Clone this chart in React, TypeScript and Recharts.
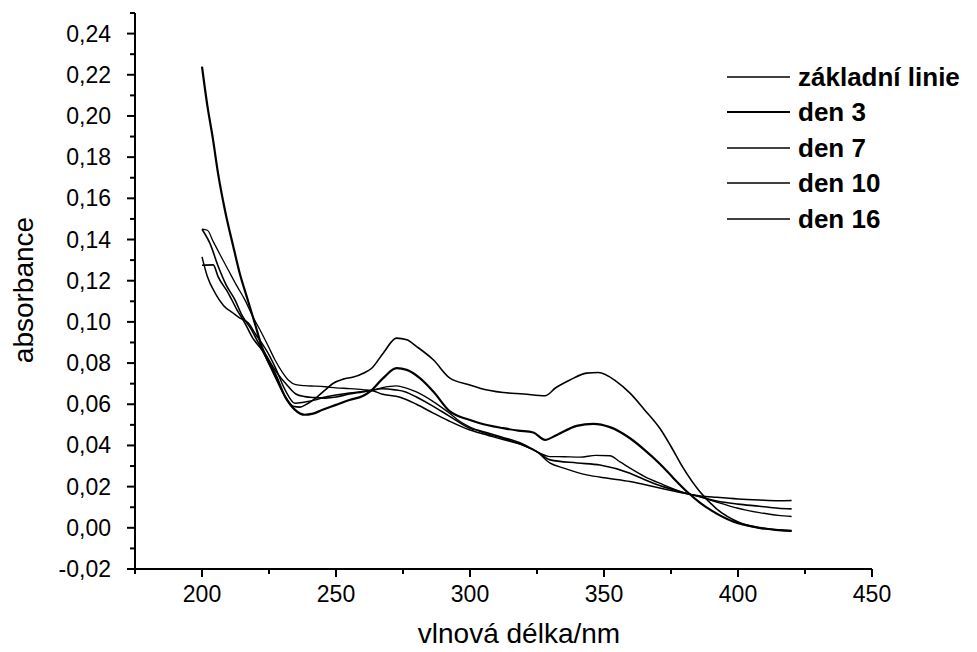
import React from 'react';
import { LineChart, Line, XAxis, YAxis, Legend, Label } from 'recharts';

// ---- data (wavelength nm / absorbance) ----
const wlZakladni = [200,204.2,206,209.8,213,216,219,222.3,227.2,231,234,236.6,239,242.8,246,249,252.7,256.5,260.2,263.3,267.6,272.6,276.4,280.1,286.3,292.5,300,303.7,312.4,320,328,332,337.3,343.5,347.9,354.7,359.7,365,370.9,375,379.6,385.8,392,400.7,408.2,415,420];
const absZakladni = [0.1275,0.1277,0.122,0.114,0.106,0.0994,0.092,0.0864,0.0735,0.0637,0.059,0.0586,0.060,0.0634,0.067,0.0702,0.0722,0.0732,0.0751,0.0775,0.0848,0.0921,0.0913,0.088,0.0816,0.0727,0.0694,0.0678,0.0657,0.065,0.0641,0.068,0.0718,0.0751,0.0754,0.071,0.0654,0.0575,0.0482,0.0395,0.029,0.0175,0.0092,0.0025,-0.0001,-0.001,-0.0015];

const wlDen3 = [200,202,204,206,208.6,211.6,214,217,220,222.3,225,227.2,231,234.7,238.4,241,245,250,255,260,263,267.6,272.6,276.4,281.3,286.3,292.5,300,303.7,312.4,318,323.6,328,332.4,339.8,346,352.2,359.7,365,370.9,376,381,386,390,398.3,408,414,420];
const absDen3 = [0.224,0.205,0.1895,0.172,0.154,0.137,0.124,0.111,0.098,0.088,0.080,0.075,0.0637,0.0573,0.0549,0.0553,0.0573,0.0597,0.0621,0.064,0.0665,0.0727,0.0775,0.0767,0.0727,0.0662,0.0565,0.0524,0.0508,0.0484,0.0472,0.0463,0.0427,0.0451,0.0495,0.0505,0.0489,0.0435,0.038,0.031,0.024,0.0175,0.012,0.0085,0.003,0.0,-0.001,-0.0015];

const wlDen7 = [200,202,204.2,207,209.8,213,216,219,222.3,225,227.2,230,232.2,235,238.4,242,246,250,255,260,263,267,272.6,276,280,286.3,292,296.3,303.7,312,320,324.9,329.9,335,341,347,352.2,356,359.7,365,372,380,386,392,400,408,415,420];
const absDen7 = [0.145,0.1445,0.139,0.132,0.1252,0.1175,0.1107,0.1025,0.0945,0.0875,0.0816,0.0755,0.0718,0.0695,0.069,0.0688,0.0685,0.068,0.0676,0.0671,0.0667,0.068,0.0689,0.068,0.066,0.0613,0.056,0.0516,0.0468,0.0435,0.040,0.037,0.0346,0.0345,0.0343,0.0352,0.035,0.032,0.029,0.025,0.021,0.017,0.015,0.0125,0.0095,0.0074,0.006,0.0055];

const wlDen10 = [200,203,206.1,209,212.3,215,218.5,221,223.5,227.2,232.2,235,238.4,242,245.9,250,255,260,263,267,272,276,280,286.3,292,300,304,312,320,324.9,329.9,340,348.5,359.7,365,372,380,386,392,400,408,415,420];
const absDen10 = [0.145,0.138,0.1268,0.118,0.1107,0.103,0.0961,0.090,0.0848,0.0767,0.0686,0.065,0.0637,0.0632,0.063,0.0635,0.065,0.066,0.0667,0.0675,0.067,0.066,0.0635,0.059,0.0545,0.0484,0.047,0.044,0.0405,0.037,0.033,0.0315,0.0305,0.0265,0.0235,0.020,0.017,0.015,0.013,0.0115,0.0105,0.0095,0.0092];

const wlDen16 = [200,202,204.9,208,211.7,214,217.3,220,222.3,225,227.2,231,234.7,238,242,246,250,255,260,263,267,273.9,280,286.3,292,300,303.7,312,320,324.9,329.9,335,343.5,352,359.7,365,372,380,386,392,400,408,415,420];
const absDen16 = [0.1316,0.122,0.114,0.108,0.1042,0.102,0.0994,0.094,0.0897,0.084,0.0783,0.067,0.0605,0.061,0.062,0.0635,0.0645,0.0655,0.0662,0.0667,0.065,0.0634,0.060,0.0557,0.052,0.0475,0.046,0.043,0.040,0.037,0.0314,0.029,0.0257,0.024,0.0225,0.021,0.019,0.0168,0.0155,0.0148,0.014,0.0135,0.0132,0.0133];

const seriesNames = ['základní linie', 'den 3', 'den 7', 'den 10', 'den 16'];
const xTicks = [175,200,225,250,275,300,325,350,375,400,425,450];
const xMajor = [200,250,300,350,400,450];
const yTicks = [-0.02,-0.01,0,0.01,0.02,0.03,0.04,0.05,0.06,0.07,0.08,0.09,0.1,0.11,0.12,0.13,0.14,0.15,0.16,0.17,0.18,0.19,0.2,0.21,0.22,0.23,0.24,0.25];

const toRows = (wl: number[], ab: number[]) => wl.map((w, i) => ({ w, a: ab[i] }));
const seriesData = [
  toRows(wlZakladni, absZakladni),
  toRows(wlDen3, absDen3),
  toRows(wlDen7, absDen7),
  toRows(wlDen10, absDen10),
  toRows(wlDen16, absDen16),
];
const widths = [1.6, 2.2, 1.3, 1.6, 1.5];

const FONT = '"Liberation Sans", Arial, Helvetica, sans-serif';

const YTick = (props: any) => {
  const { x, y, payload } = props;
  const v = payload.value as number;
  const major = Math.round(v * 100) % 2 === 0;
  return (
    <g>
      <line x1={x - (major ? 8 : 5)} x2={x} y1={y} y2={y} stroke="#000" strokeWidth={2} />
      {major && (
        <text x={x - 24} y={y} textAnchor="end" dominantBaseline="central" fontSize={23} fontFamily={FONT} fill="#000">
          {v.toFixed(2).replace('.', ',')}
        </text>
      )}
    </g>
  );
};

const XTick = (props: any) => {
  const { x, y, payload } = props;
  const v = payload.value as number;
  const major = xMajor.includes(v);
  return (
    <g>
      <line x1={x} x2={x} y1={y} y2={y + (major ? 8 : 5)} stroke="#000" strokeWidth={2} />
      {major && (
        <text x={x} y={y + 25} textAnchor="middle" dominantBaseline="central" fontSize={23} fontFamily={FONT} fill="#000">
          {v}
        </text>
      )}
    </g>
  );
};

const renderLegend = () => (
  <div style={{ fontFamily: FONT, fontWeight: 'bold', fontSize: 26, color: '#000' }}>
    {seriesNames.map((name, i) => (
      <div key={name} style={{ display: 'flex', alignItems: 'center', height: 35.5, whiteSpace: 'nowrap' }}>
        <svg width={63} height={6} style={{ display: 'block' }}>
          <line x1={0} x2={63} y1={3} y2={3} stroke="#000" strokeWidth={widths[i]} />
        </svg>
        <span style={{ marginLeft: 8, lineHeight: '26px' }}>{name}</span>
      </div>
    ))}
  </div>
);

export default function App() {
  return (
    <div style={{ position: 'absolute', left: 0, top: 0, width: 977, height: 652, background: '#fff' }}>
      <LineChart width={977} height={652} margin={{ top: 13, right: 105, bottom: 0, left: 0 }}>
        <XAxis
          type="number"
          dataKey="w"
          domain={[175, 450]}
          ticks={xTicks}
          interval={0}
          tickSize={0}
          tickMargin={0}
          tickLine={false}
          height={83}
          axisLine={{ stroke: '#000', strokeWidth: 2 }}
          tick={<XTick />}
        >
          <Label
            content={(p: any) => {
              const vb = p.viewBox || { x: 135, y: 569, width: 737 };
              return (
                <text x={vb.x + 384} y={vb.y + 64} textAnchor="middle" dominantBaseline="central" fontSize={28} fontFamily={FONT} fill="#000">
                  vlnová délka/nm
                </text>
              );
            }}
          />
        </XAxis>
        <YAxis
          type="number"
          domain={[-0.02, 0.25]}
          ticks={yTicks}
          interval={0}
          tickSize={0}
          tickMargin={0}
          tickLine={false}
          width={135}
          axisLine={{ stroke: '#000', strokeWidth: 2 }}
          tick={<YTick />}
          allowDataOverflow
        >
          <Label
            content={() => (
              <text x={23} y={290} textAnchor="middle" dominantBaseline="central" fontSize={28} fontFamily={FONT} fill="#000" transform="rotate(-90 23 290)">
                absorbance
              </text>
            )}
          />
        </YAxis>
        <Legend
          layout="vertical"
          align="center"
          verticalAlign="middle"
          content={renderLegend}
          wrapperStyle={{ position: 'absolute', left: 727, top: 59, width: 250 }}
        />
        {seriesData.map((d, i) => (
          <Line
            key={seriesNames[i]}
            data={d}
            dataKey="a"
            name={seriesNames[i]}
            type="monotone"
            stroke="#000"
            strokeWidth={widths[i]}
            dot={false}
            activeDot={false}
            legendType="line"
            isAnimationActive={false}
          />
        ))}
      </LineChart>
    </div>
  );
}
